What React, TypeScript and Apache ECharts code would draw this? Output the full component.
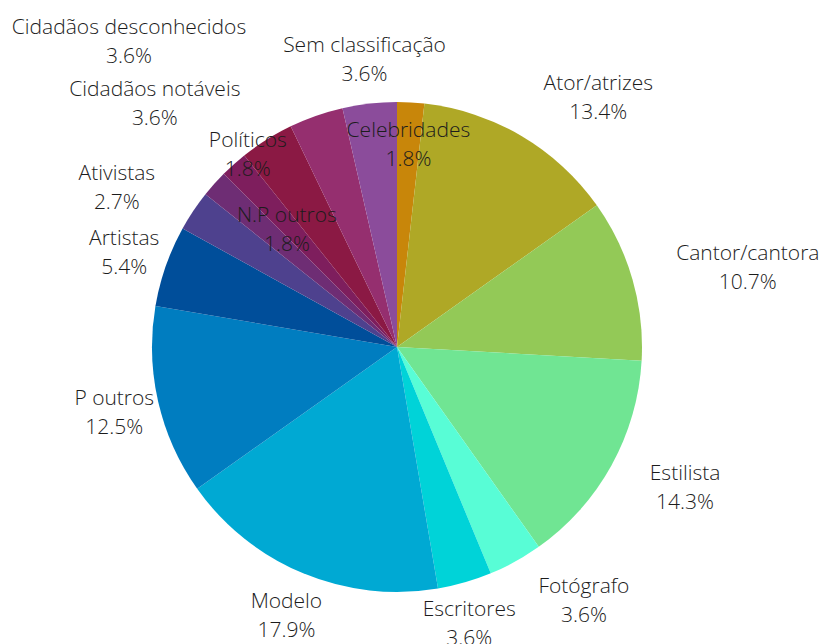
import React, { useEffect, useRef } from "react";
import * as echarts from "echarts";

// Categories in clockwise order, starting at 12 o'clock
const categories = [
  "Celebridades",
  "Ator/atrizes",
  "Cantor/cantora",
  "Estilista",
  "Fotógrafo",
  "Escritores",
  "Modelo",
  "P outros",
  "Artistas",
  "Ativistas",
  "N.P outros",
  "Políticos",
  "Cidadãos notáveis",
  "Cidadãos desconhecidos",
  "Sem classificação",
];

// Number of people in each category (112 in total)
const counts = [2, 15, 12, 16, 4, 4, 20, 14, 6, 3, 2, 2, 4, 4, 4];

const sliceColors = [
  "#c8860a",
  "#afa826",
  "#93c957",
  "#70e593",
  "#58fdd6",
  "#00d3d8",
  "#00a9d3",
  "#007dc0",
  "#004e9a",
  "#4e418e",
  "#6e2d74",
  "#7e1e5d",
  "#8b1944",
  "#952f6f",
  "#8b4c9b",
];

// Label placement around the pie: distance from the centre (px) and an
// angular nudge (degrees) away from the slice's mid-angle to avoid overlaps.
const labelDistance = [204, 321, 360, 320, 314, 285, 289, 290, 289, 323, 162, 244, 344, 407, 290];
const labelNudge = [0, 8.3, 3.1, -3.1, -7.6, 1.4, 0, 0, 0, -3.9, 5.4, 4.1, -12.6, -21.9, 0];

const CENTER_X = 397;
const CENTER_Y = 347;
const RADIUS = 245;

export default function App() {
  const ref = useRef<HTMLDivElement>(null);

  useEffect(() => {
    if (!ref.current) return;
    const chart = echarts.init(ref.current, undefined, { renderer: "svg" });

    const total = counts.reduce((a, b) => a + b, 0);
    const midAngles: number[] = [];
    let acc = 0;
    counts.forEach((c) => {
      midAngles.push(((acc + c / 2) / total) * 360);
      acc += c;
    });

    chart.setOption({
      animation: false,
      backgroundColor: "#ffffff",
      series: [
        {
          type: "pie",
          center: [CENTER_X, CENTER_Y],
          radius: [0, RADIUS],
          startAngle: 90,
          clockwise: true,
          avoidLabelOverlap: false,
          data: categories.map((name, i) => ({
            name,
            value: counts[i],
            itemStyle: { color: sliceColors[i] },
          })),
          itemStyle: { borderWidth: 0 },
          label: {
            show: true,
            position: "outside",
            color: "#1c1c1c",
            fontFamily: "'Open Sans', sans-serif",
            fontWeight: 350,
            fontSize: 21,
            lineHeight: 29,
            align: "center",
            formatter: (p: any) =>
              `${p.name}\n${((p.value / total) * 100).toFixed(1)}%`,
          },
          labelLine: { show: false },
          emphasis: { disabled: true },
          labelLayout: (params: any) => {
            const i = params.dataIndex;
            const a = ((midAngles[i] + labelNudge[i]) * Math.PI) / 180;
            const d = labelDistance[i];
            return {
              x: CENTER_X + d * Math.sin(a),
              y: CENTER_Y - d * Math.cos(a),
              align: "center",
              verticalAlign: "middle",
            };
          },
        },
      ],
    });

    return () => chart.dispose();
  }, []);

  return (
    <div
      ref={ref}
      style={{ position: "fixed", left: 0, top: 0, width: 823, height: 644 }}
    />
  );
}
